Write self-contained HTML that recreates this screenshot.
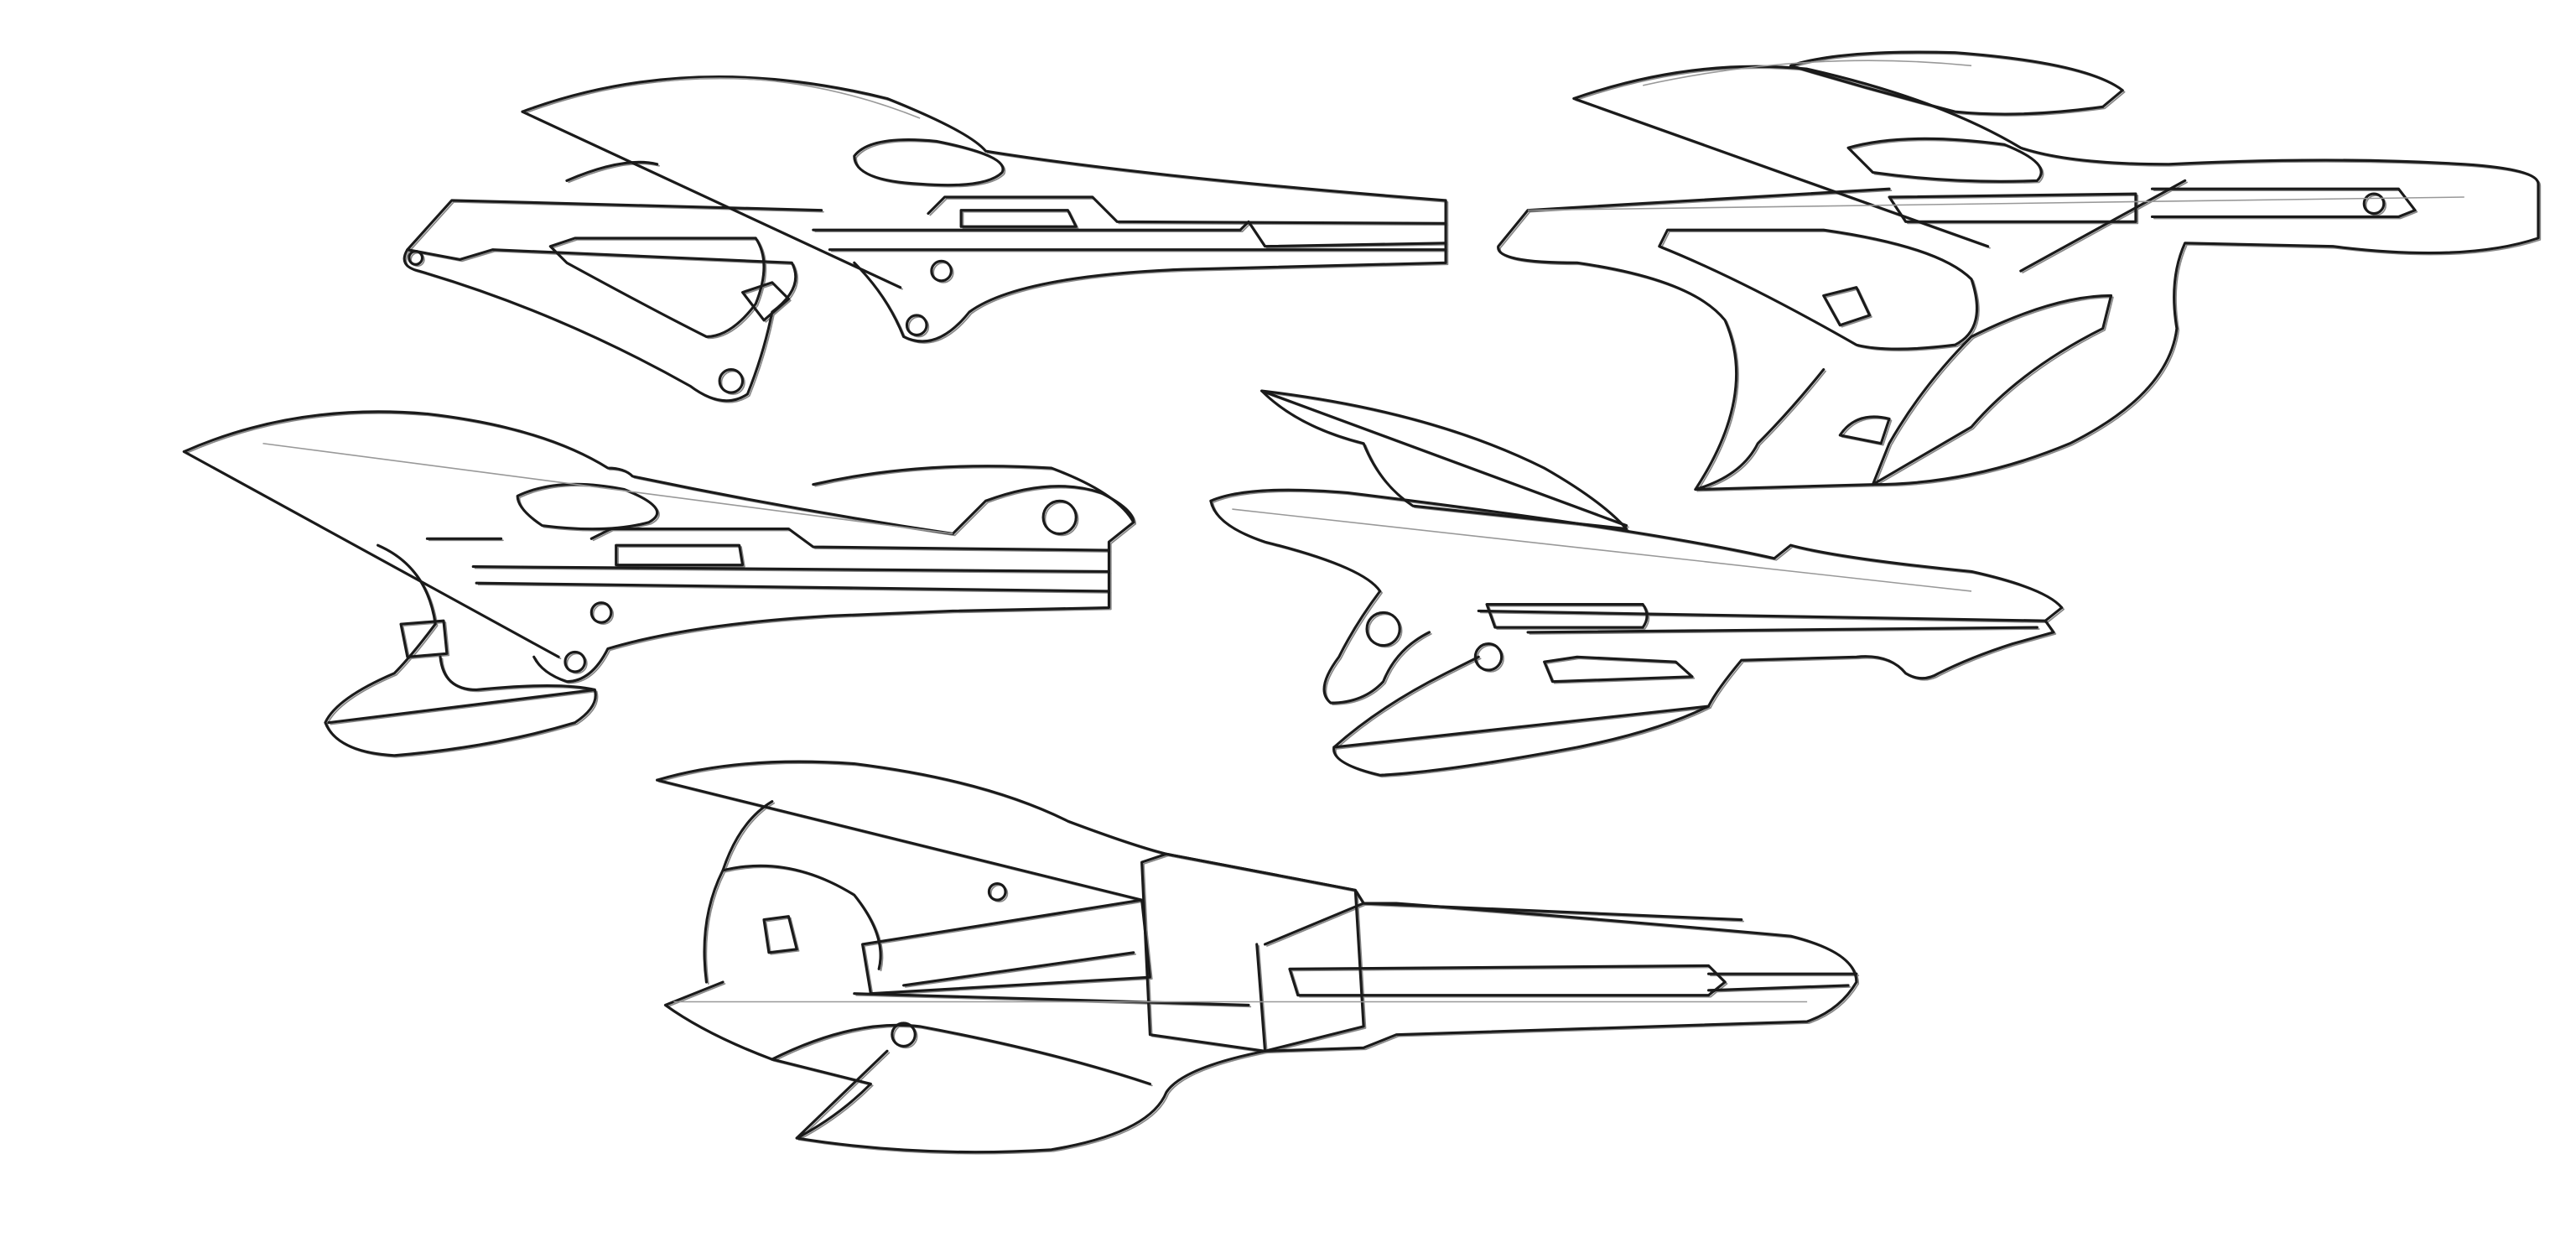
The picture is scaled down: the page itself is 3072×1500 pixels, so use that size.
<!DOCTYPE html>
<html><head><meta charset="utf-8"><style>html,body{margin:0;padding:0;background:#fff}svg{display:block}</style></head>
<body>
<svg width="3072" height="1500" viewBox="0 0 1568 766" preserveAspectRatio="none" xmlns="http://www.w3.org/2000/svg">
<rect width="1568" height="766" fill="#fff"/>
<defs>
<g id="guns">
<!-- Gun 1 -->
<path d="M318,68 Q420,30 540,60 Q590,80 600,92 Q700,108 880,122 L880,160 L720,164 Q620,168 590,190 Q570,215 550,205 Q540,180 520,160"/>
<path d="M318,68 L548,175"/>
<path d="M248,152 L275,122 L500,128"/>
<path d="M248,152 Q242,162 255,165 Q340,190 420,235 Q440,250 455,240 Q465,215 470,190 Q490,175 482,160 L300,152 L280,158 Z"/>
<path d="M335,150 L350,145 L460,145 Q470,160 460,185 Q445,205 430,205 Q400,190 345,160 Z"/>
<path d="M345,110 Q380,95 400,100"/>
<path d="M520,95 Q530,82 570,86 Q615,95 610,105 Q600,115 560,112 Q520,110 520,95 Z"/>
<path d="M565,130 L575,120 L665,120 L680,135 L880,136"/>
<path d="M585,128 L650,128 L655,138 L585,138 Z"/>
<path d="M495,140 L755,140 L760,135 L770,150 L880,148"/>
<path d="M505,152 L880,152"/>
<circle cx="573" cy="165" r="6"/><circle cx="558" cy="198" r="6"/><circle cx="445" cy="232" r="7"/>
<circle cx="253" cy="157" r="4"/>
<path d="M452,178 L470,172 L480,182 L465,195 Z"/>
<!-- Gun 2 -->
<path d="M958,60 Q1030,35 1100,42 Q1180,60 1230,90 Q1260,100 1320,100 Q1420,95 1500,100 Q1545,103 1545,112 L1545,145 Q1500,160 1420,150 L1330,148 Q1320,170 1325,200 Q1320,240 1260,270 Q1200,295 1140,295 L1032,298 Q1060,290 1070,270 Q1090,250 1110,225"/>
<path d="M958,60 L1210,150"/>
<path d="M1090,40 Q1120,30 1190,32 Q1270,38 1292,55 L1280,65 Q1230,72 1190,68 Q1140,55 1090,40 Z"/>
<path d="M1125,90 Q1160,80 1220,88 Q1250,100 1240,110 Q1190,112 1140,105 Z"/>
<path d="M1032,298 Q1070,240 1050,195 Q1030,170 960,160 Q910,160 912,150 L930,128 L1150,115"/>
<path d="M1010,150 L1015,140 L1110,140 Q1180,150 1200,170 Q1210,200 1190,210 Q1150,215 1130,210 Q1060,170 1010,150 Z"/>
<path d="M1150,120 L1300,118 L1300,135 L1160,135 Z"/>
<path d="M1310,115 L1460,115 L1470,128 L1460,132 L1310,132"/>
<circle cx="1445" cy="124" r="6"/>
<path d="M1230,165 L1330,110"/>
<path d="M1140,295 L1150,270 Q1170,235 1200,205 Q1250,180 1285,180 L1280,200 Q1230,225 1200,260 Z"/>
<path d="M1120,265 Q1130,250 1150,255 L1145,270 Z"/>
<path d="M1110,180 L1130,175 L1138,192 L1120,198 Z"/>
<!-- Gun 3 -->
<path d="M112,275 Q180,245 260,252 Q330,260 370,285 Q380,285 385,290 Q480,310 580,325 L600,305 Q640,290 670,300 Q690,310 690,318 L675,330 L675,370 L580,372 L505,375 Q420,380 370,395 Q360,415 345,415 Q330,410 325,400"/>
<path d="M112,275 L340,400"/>
<path d="M495,295 Q560,280 640,285 Q680,300 690,318"/>
<circle cx="645" cy="315" r="10"/>
<path d="M315,302 Q340,290 380,298 Q410,310 395,318 Q370,325 330,320 Q315,310 315,302 Z"/>
<path d="M230,332 Q260,345 265,380 Q250,400 240,410 Q205,425 198,440 Q205,458 240,460 Q300,455 350,440 Q365,430 362,420 Q340,415 290,420 Q270,420 268,400"/>
<path d="M200,440 Q280,430 362,420"/>
<path d="M360,328 L372,322 L480,322 L495,333 L675,335"/>
<path d="M375,332 L450,332 L452,344 L375,344 Z"/>
<path d="M288,345 L675,348"/>
<path d="M290,355 L675,360"/>
<circle cx="366" cy="373" r="6"/><circle cx="350" cy="403" r="6"/>
<path d="M244,380 L270,378 L272,398 L248,400 Z"/>
<path d="M260,328 L305,328"/>
<!-- Gun 4 -->
<path d="M768,238 Q870,250 940,285 Q975,305 990,322 L860,308 Q840,295 830,270 Q790,260 768,238 Z"/>
<path d="M768,238 L990,320"/>
<path d="M737,305 Q760,295 820,300 Q1000,322 1080,340 L1090,332 Q1120,340 1200,348 Q1245,358 1255,370 L1245,378 L1250,385 L1225,392 Q1200,400 1180,410 Q1170,416 1160,410 Q1150,398 1130,400 L1060,402 Q1045,420 1040,430 Q1010,445 960,455 Q880,470 840,472 Q810,465 812,455 Q840,430 880,410 L900,400"/>
<path d="M737,305 Q740,320 770,330 Q830,345 840,360 Q825,380 815,400 Q800,420 810,428 Q830,428 842,415 Q850,395 870,385"/>
<circle cx="842" cy="383" r="10"/><circle cx="906" cy="400" r="8"/>
<path d="M905,368 L1000,368 Q1005,375 1000,382 L910,382 Z"/>
<path d="M900,372 L1245,378"/>
<path d="M930,385 L1240,382"/>
<path d="M940,403 L960,400 L1020,403 L1030,412 L945,415 Z"/>
<path d="M812,455 L1040,430"/>
<!-- Gun 5 -->
<path d="M400,475 Q450,460 520,465 Q600,475 650,500 Q690,515 710,520 L825,542 L830,550 L850,550 Q980,560 1090,570 Q1130,580 1130,598 Q1120,615 1100,622 L850,630 L830,638 L770,640 Q720,650 710,665 Q700,690 640,700 Q560,705 485,693 Q510,680 530,660 L470,645 Q430,630 405,612 L440,598"/>
<path d="M400,475 L695,548"/>
<path d="M440,530 Q450,500 470,488"/>
<path d="M430,598 Q425,560 440,530 Q480,520 520,545 Q540,570 535,590"/>
<path d="M465,560 L480,558 L485,578 L468,580 Z"/>
<path d="M525,575 L695,548 L700,595 L530,605 Z"/>
<path d="M550,600 L690,580"/>
<path d="M695,525 L710,520 L825,542 L830,625 L770,640 L700,630 Z"/>
<path d="M770,575 L830,550 L1060,560"/>
<path d="M765,575 L770,640"/>
<path d="M785,590 L1040,588 L1050,598 L1040,606 L790,606 Z"/>
<path d="M1040,593 L1130,593"/>
<path d="M1040,603 L1125,600"/>
<path d="M520,605 L760,612"/>
<path d="M470,645 Q520,620 560,625 Q640,640 700,660"/>
<circle cx="550" cy="630" r="7"/><circle cx="607" cy="543" r="5"/>
<path d="M485,693 L540,640"/>
</g>
</defs>
<g fill="none" stroke="#888" stroke-width="0.9" stroke-linejoin="round" stroke-linecap="round" transform="translate(1.2,1)">
<use href="#guns"/>
</g>
<g fill="none" stroke="#1a1a1a" stroke-width="1.6" stroke-linejoin="round" stroke-linecap="round">
<use href="#guns"/>
</g>
<g fill="none" stroke="#999" stroke-width="0.8">
<path d="M400,50 Q480,40 560,72"/><path d="M1000,52 Q1100,30 1200,40"/>
<path d="M160,270 L580,325"/><path d="M750,310 L1200,360"/>
<path d="M410,610 L1100,610"/><path d="M930,128 L1500,120"/>
</g>
</svg>
</body></html>
